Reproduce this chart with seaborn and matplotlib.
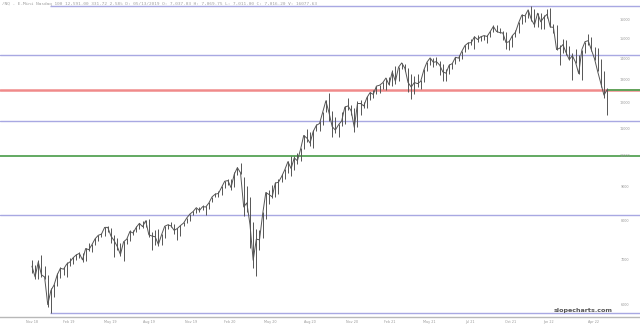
import matplotlib
matplotlib.use("Agg")
import matplotlib.pyplot as plt
import matplotlib.dates as mdates
import matplotlib.transforms as mtransforms
import seaborn as sns
import pandas as pd
import numpy as np

# ---------------- data (weekly bars) ----------------
week_high = [
    7000, 6870, 7000, 7130, 6850, 6650, 6350,
    6450, 6680, 6830, 6830, 6950, 7050, 7080, 7150, 7200, 7180, 7300, 7420, 7400,
    7540, 7640, 7680, 7840, 7880, 7800, 7620, 7550, 7420, 7480, 7560, 7760, 7760,
    7860, 7960, 8000, 8030, 8050, 7700, 7750, 7780, 7650, 7880, 7930, 7990, 7920,
    7820, 7900, 7990, 8100, 8200, 8280, 8380, 8400, 8450, 8440, 8550, 8700, 8820,
    8880, 9020, 9200, 9250, 9250, 9470, 9640, 9760, 9320, 9020, 8700, 7980, 7780,
    7750, 8250, 8850, 8900, 9050, 9150, 9250, 9400, 9560, 9850, 10000, 10030, 10130,
    10300, 10760, 10980, 10880, 10950, 11200, 11300, 11650, 12130, 12440, 11700, 11450, 11200,
    11650, 11900, 12250, 11950, 11800, 12100, 12150, 12080, 12300, 12480, 12550, 12760, 12800, 12920,
    13100, 13150, 13450, 13650, 13600, 13820, 13750, 13560, 13300, 13200, 13300, 13000,
    13500, 13850, 14060, 14050, 14080, 13900, 13750, 13500, 13750, 13790, 14090, 14190, 14400,
    14660, 14850, 15000, 15130, 15180, 15150, 15200, 15200, 15400, 15700, 15700, 15560, 15400,
    15350, 14950, 15180, 15450, 15880, 16330, 16300, 16580, 16770, 16600, 16400, 16400, 16300, 16600,
    16700, 15800, 15700, 14700, 15000, 14950, 14650, 14300, 14500, 14200, 14450, 14850,
    15260, 15100, 14600, 14550, 14000, 13400, 12650,
]
week_low = [
    6700, 6560, 6550, 6600, 6550, 5950, 5820,
    6150, 6400, 6580, 6650, 6600, 6850, 6900, 7000, 7050, 6950, 6980, 7220, 7200,
    7380, 7480, 7580, 7600, 7700, 7420, 7060, 7250, 7100, 6980, 7400, 7480, 7620,
    7700, 7780, 7820, 7850, 7580, 7250, 7380, 7340, 7380, 7540, 7780, 7830, 7650,
    7500, 7600, 7870, 7950, 8000, 8160, 8240, 8260, 8300, 8160, 8330, 8540, 8700,
    8700, 8740, 8980, 9070, 8900, 9000, 9380, 9400, 8140, 8250, 7300, 6800, 6630,
    7250, 7540, 8050, 8500, 8650, 8700, 8780, 9150, 9250, 9460, 9350, 9550, 9750,
    9830, 10250, 10500, 10350, 10300, 10900, 10900, 11150, 11650, 11300, 10680, 10850, 10700,
    11100, 11200, 11750, 11550, 10880, 11050, 11550, 11800, 11800, 12150, 12250, 12400, 12450, 12620,
    12560, 12780, 12750, 12850, 12950, 13500, 13400, 12500, 12200, 12400, 12700, 12600,
    12900, 13400, 13700, 13600, 13700, 13250, 12960, 12950, 13300, 13500, 13740, 13900, 14000,
    14350, 14500, 14700, 14470, 14820, 14900, 14950, 14800, 15080, 15350, 15350, 15300, 14950,
    14500, 14450, 14600, 15100, 15300, 15800, 15900, 16100, 15950, 15600, 15600, 15520, 15500, 16100,
    15600, 15300, 14450, 13700, 14300, 14200, 13950, 13030, 13800, 13300, 13020, 14300,
    14700, 14400, 13950, 13400, 12700, 12250, 11550,
]
week_close = [
    6850, 6600, 6950, 6650, 6600, 6000, 6300,
    6420, 6650, 6800, 6780, 6900, 6950, 7050, 7120, 7160, 7000, 7280, 7250, 7380,
    7530, 7620, 7650, 7830, 7830, 7600, 7480, 7330, 7130, 7450, 7520, 7720, 7680,
    7830, 7940, 7850, 8010, 7630, 7600, 7580, 7380, 7630, 7860, 7900, 7870, 7750,
    7800, 7880, 7950, 8090, 8200, 8270, 8380, 8300, 8410, 8400, 8520, 8700, 8780,
    8800, 8990, 9180, 9200, 8980, 9400, 9620, 9450, 8400, 8520, 7900, 6990, 7520,
    7500, 8200, 8830, 8770, 8700, 9120, 9150, 9330, 9550, 9820, 9590, 9950, 9850,
    10250, 10750, 10650, 10470, 10900, 11130, 11200, 11650, 12110, 11620, 11080, 10950, 11150,
    11300, 11850, 11900, 11700, 11050, 12000, 12000, 11900, 12250, 12460, 12380, 12740, 12780, 12890,
    13100, 12800, 13380, 12950, 13600, 13800, 13550, 12900, 12700, 12900, 12850, 12950,
    13470, 13840, 14040, 13830, 13860, 13700, 13380, 13320, 13690, 13770, 14070, 14030, 14360,
    14650, 14780, 14800, 15100, 14960, 15100, 15160, 15120, 15370, 15650, 15380, 15320, 15300,
    14800, 14850, 15160, 15340, 15850, 16270, 16230, 16570, 16030, 15730, 16380, 15900, 16150, 16320,
    15620, 15600, 14450, 14520, 14700, 14300, 13960, 14150, 13830, 13300, 14450, 14850,
    14900, 14450, 14000, 13400, 12870, 12350, 12590,
]
last_date = "2022-05-13"
low_anchor_date = "2018-12-24"

fib_levels = [16765, 14182, 12584, 11292, 10001, 8162, 5820]
fib_colors = ["#a8a8e2", "#a8a8e2", "#f08a8a", "#a8a8e2", "#55a355", "#a8a8e2", "#a8a8e2"]
fib_widths = [1.0, 1.0, 1.8, 1.0, 1.3, 1.0, 1.0]

y_tick_values = [6000, 7000, 8000, 9000, 10000, 11000, 12000, 13000, 14000, 15000, 16000]
y_tick_labels = ["6000", "7000", "8000", "9000", "10000", "11000", "12000",
                 "13000", "14000", "15000", "16000"]

x_tick_dates = ["2018-11-14", "2019-02-04", "2019-05-06", "2019-07-31", "2019-11-01",
                "2020-01-26", "2020-04-24", "2020-07-22", "2020-10-23", "2021-01-15",
                "2021-04-13", "2021-07-11", "2021-10-08", "2021-12-31", "2022-04-10"]
x_tick_labels = ["Nov 18", "Feb 19", "May 19", "Aug 19", "Nov 19", "Feb 20", "May 20",
                 "Aug 20", "Nov 20", "Feb 21", "May 21", "Jul 21", "Oct 21", "Jan 22", "Apr 22"]

title_text = ("/NQ - E-Mini Nasdaq 100 12,591.00 331.72 2.58% D: 05/13/2019 O: 7,037.03 "
              "H: 7,069.75 L: 7,011.00 C: 7,016.20 V: 16077.63")

# ---------------- build frame ----------------
dates = pd.date_range(end=last_date, periods=len(week_close), freq="W-FRI") - pd.Timedelta(days=2)
df = pd.DataFrame({"date": dates, "high": week_high, "low": week_low, "close": week_close})

sns.set_theme(style="white")
plt.rcParams["font.family"] = ["DejaVu Sans"]

W, H = 640, 327
fig = plt.figure(figsize=(W / 100, H / 100), dpi=100)
ax = fig.add_axes([0, (H - 316.5) / H, 1, 316.5 / H])

base = mdates.date2num(pd.Timestamp(low_anchor_date))
px_per_day = 0.4515
ax.set_xlim(base - 50 / px_per_day, base + 590 / px_per_day)
ax.set_yscale("log")
k = 290.2
ax.set_ylim(16000 * np.exp(-296.5 / k), 16000 * np.exp(20 / k))

# fib lines
xmin_all, xmax_all = ax.get_xlim()
for i, (lv, c, lw) in enumerate(zip(fib_levels, fib_colors, fib_widths)):
    if i in (0, len(fib_levels) - 1):
        ax.hlines(lv, base, xmax_all, color=c, lw=lw, zorder=1)
    else:
        ax.axhline(lv, color=c, lw=lw, zorder=1)
# last price marker continuation
last_x = mdates.date2num(pd.Timestamp(last_date))
ax.hlines(week_close[-1], last_x, xmax_all, color="#55a355", lw=1.3, zorder=2)

# price bars
bar_color = "#555555"
ax.vlines(df["date"], df["low"], df["high"], color=bar_color, lw=0.7, zorder=3)
sns.lineplot(data=df, x="date", y="close", ax=ax, color=bar_color, lw=0.7, zorder=3)

ax.set_xlim(xmin_all, xmax_all)
ax.set_xlabel("")
ax.set_ylabel("")
ax.set_xticks([])
ax.set_yticks([])
ax.minorticks_off()
for s in ["top", "left", "right"]:
    ax.spines[s].set_visible(False)
ax.spines["bottom"].set_color("#b8b8b8")
ax.spines["bottom"].set_linewidth(1.0)

# right-side price labels
trans_y = mtransforms.blended_transform_factory(ax.transAxes, ax.transData)
for v, lab in zip(y_tick_values, y_tick_labels):
    ax.text(625 / W, v, lab, transform=trans_y, fontsize=2.4, color="#9a9a9a",
            ha="center", va="center")

# date labels
trans_x = mtransforms.blended_transform_factory(ax.transData, fig.transFigure)
for d, lab in zip(x_tick_dates, x_tick_labels):
    ax.text(mdates.date2num(pd.Timestamp(d)), (H - 322) / H, lab, transform=trans_x,
            fontsize=2.4, color="#9a9a9a", ha="center", va="center", clip_on=False)

# header text
fig.text(2 / W, (H - 3.5) / H, title_text, fontsize=3.2, color="#a0a0a0",
         family="DejaVu Sans Mono", ha="left", va="center")

# watermark
fig.text(583 / W, (H - 310.5) / H, "slopecharts.com", fontsize=4.6, color="#555555",
         fontweight="bold", ha="center", va="center")

fig.savefig("out.png", dpi=100)
